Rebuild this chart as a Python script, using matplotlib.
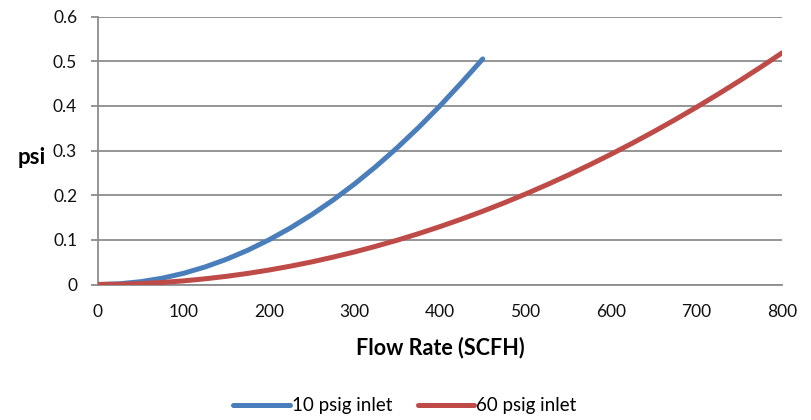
import matplotlib
matplotlib.use("Agg")
import matplotlib.pyplot as plt

plt.rcParams['font.family'] = ['Lato', 'DejaVu Sans']

# Data
flow_10 = [0, 25, 50, 75, 100, 125, 150, 175, 200, 225, 250, 275, 300, 325, 350, 375, 400, 425, 450]
psi_10 = [0, 0.0016, 0.0063, 0.0141, 0.025, 0.0391, 0.0563, 0.0766, 0.1, 0.1266, 0.1563,
          0.1891, 0.225, 0.2641, 0.3063, 0.3516, 0.4, 0.4516, 0.505]
flow_60 = [0, 25, 50, 75, 100, 125, 150, 175, 200, 225, 250, 275, 300, 325, 350, 375, 400,
           425, 450, 475, 500, 525, 550, 575, 600, 625, 650, 675, 700, 725, 750, 775, 800]
psi_60 = [0, 0.0005, 0.002, 0.0046, 0.0081, 0.0127, 0.0182, 0.0248, 0.0324, 0.041, 0.0506,
          0.0613, 0.0729, 0.0856, 0.0992, 0.1139, 0.1296, 0.1463, 0.164, 0.1828, 0.2025,
          0.2233, 0.245, 0.2678, 0.2916, 0.3164, 0.3422, 0.3691, 0.3969, 0.4258, 0.4556,
          0.4865, 0.5184]
series_labels = ["10 psig inlet", "60 psig inlet"]
x_ticks = [0, 100, 200, 300, 400, 500, 600, 700, 800]
y_ticks = [0, 0.1, 0.2, 0.3, 0.4, 0.5, 0.6]
y_tick_labels = ["0", "0.1", "0.2", "0.3", "0.4", "0.5", "0.6"]

fig = plt.figure(figsize=(8.12, 4.2), dpi=100)
ax = fig.add_axes([98/812, 1-284.5/420, (782-98)/812, (284.5-16.5)/420])

blue = '#4A7EBB'
red = '#BE4B48'
grid_c = '#8C8C8C'

l1, = ax.plot(flow_10, psi_10, color=blue, lw=3.6, solid_capstyle='round', solid_joinstyle='round',
              label=series_labels[0], zorder=3)
l2, = ax.plot(flow_60, psi_60, color=red, lw=3.6, solid_capstyle='round', solid_joinstyle='round',
              label=series_labels[1], zorder=3)

ax.set_xlim(0, 800)
ax.set_ylim(0, 0.6)
ax.set_xticks(x_ticks)
ax.set_xticklabels([str(v) for v in x_ticks])
ax.set_yticks(y_ticks)
ax.set_yticklabels(y_tick_labels)
ax.yaxis.grid(True, color=grid_c, lw=1.3)
ax.set_axisbelow(True)
for s in ['top', 'right']:
    ax.spines[s].set_visible(False)
for s in ['left', 'bottom']:
    ax.spines[s].set_color(grid_c)
    ax.spines[s].set_linewidth(1.3)
ax.tick_params(axis='y', length=5, color=grid_c, width=1.3, labelsize=12.5, pad=10, labelcolor='#111111')
ax.tick_params(axis='x', length=0, labelsize=12.5, pad=14, labelcolor='#111111')

ax.set_xlabel("Flow Rate (SCFH)", fontsize=15.5, fontweight='bold', labelpad=12)
fig.text(32/812, 1-158/420, "psi", fontsize=16, fontweight='bold', ha='center', va='center')

fig.legend(handles=[l1, l2], loc='center', bbox_to_anchor=(405/812, 1-406/420), ncol=2,
           frameon=False, fontsize=13.5, handlelength=3.0, handletextpad=0.1, columnspacing=1.4)

fig.savefig("out.png", dpi=100)
